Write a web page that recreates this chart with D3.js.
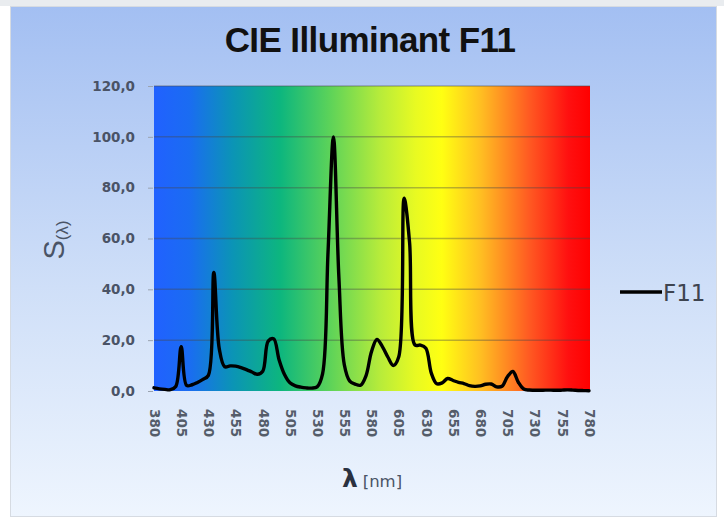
<!DOCTYPE html>
<html>
<head>
<meta charset="utf-8">
<script src="https://cdn.jsdelivr.net/npm/d3@7/dist/d3.min.js"></script>
<style>
  html, body { margin: 0; padding: 0; background: #ffffff; }
  svg { display: block; }
</style>
</head>
<body>
<div id="chart"></div>
<script>
// Wavelengths (nm), 5 nm steps
const wavelengths = [
  380, 385, 390, 395, 400, 405, 410, 415, 420, 425,
  430, 435, 440, 445, 450, 455, 460, 465, 470, 475,
  480, 485, 490, 495, 500, 505, 510, 515, 520, 525,
  530, 535, 540, 545, 550, 555, 560, 565, 570, 575,
  580, 585, 590, 595, 600, 605, 610, 615, 620, 625,
  630, 635, 640, 645, 650, 655, 660, 665, 670, 675,
  680, 685, 690, 695, 700, 705, 710, 715, 720, 725,
  730, 735, 740, 745, 750, 755, 760, 765, 770, 775,
  780
];

// Relative spectral power of F11 (peak = 100)
const f11 = [
  1.25, 0.86, 0.63, 0.51, 1.77, 17.41, 2.18, 2.46, 3.38, 4.57,
  6.16, 46.60, 16.65, 9.54, 9.87, 9.78, 9.23, 8.42, 7.50, 6.58,
  7.77, 19.62, 20.54, 12.32, 6.48, 3.20, 2.02, 1.51, 1.22, 1.14,
  1.62, 6.73, 54.35, 100.0, 44.77, 10.32, 3.89, 2.69, 2.29, 6.08,
  15.49, 20.26, 17.48, 13.37, 10.06, 13.34, 75.88, 58.46, 18.09, 18.07,
  16.83, 7.02, 2.84, 3.21, 4.91, 4.13, 3.40, 2.94, 2.11, 1.83,
  2.00, 2.66, 2.75, 1.65, 1.85, 5.63, 7.66, 3.45, 0.78, 0.37,
  0.32, 0.29, 0.33, 0.33, 0.27, 0.33, 0.44, 0.36, 0.22, 0.16,
  0.12
];

// Axis tick labels
const xTickValues = [380, 405, 430, 455, 480, 505, 530, 555, 580, 605, 630, 655, 680, 705, 730, 755, 780];
const yTickValues = [0, 20, 40, 60, 80, 100, 120];

const W = 724, H = 521;
const plot = { left: 154, right: 589, top: 86, bottom: 391 };
const labelFont = "'DejaVu Sans', Verdana, sans-serif";

const svg = d3.select("#chart").append("svg")
  .attr("width", W).attr("height", H);

const defs = svg.append("defs");

// Chart area background: light blue fading to near white
const bg = defs.append("linearGradient").attr("id", "bgGrad")
  .attr("x1", 0).attr("y1", 0).attr("x2", 0).attr("y2", 1);
bg.append("stop").attr("offset", "0%").attr("stop-color", "#a3bff2");
bg.append("stop").attr("offset", "55%").attr("stop-color", "#cfdff8");
bg.append("stop").attr("offset", "100%").attr("stop-color", "#eef5fe");

// Visible spectrum across the plot area
const spec = defs.append("linearGradient").attr("id", "specGrad")
  .attr("x1", 0).attr("y1", 0).attr("x2", 1).attr("y2", 0);
[
  [0.00, "#2161ff"],
  [0.08, "#1a6cf2"],
  [0.18, "#0b94b6"],
  [0.29, "#0db67e"],
  [0.40, "#5ad25a"],
  [0.52, "#b8ec3a"],
  [0.60, "#e8fa22"],
  [0.66, "#ffff12"],
  [0.75, "#ffbe22"],
  [0.86, "#ff5a22"],
  [0.95, "#ff1010"],
  [1.00, "#ff0000"]
].forEach(([o, c]) => spec.append("stop").attr("offset", o).attr("stop-color", c));

// Page backdrop and chart frame
svg.append("rect").attr("x", 0).attr("y", 0).attr("width", W).attr("height", 6).attr("fill", "#e9ecef");
svg.append("rect")
  .attr("x", 10.5).attr("y", 6.5).attr("width", 706).attr("height", 510)
  .attr("fill", "url(#bgGrad)").attr("stroke", "#d6dbe2").attr("stroke-width", 1);

const x = d3.scaleLinear().domain([380, 780]).range([plot.left, plot.right]);
const y = d3.scaleLinear().domain([0, 120]).range([plot.bottom, plot.top]);

// Plot area
svg.append("rect")
  .attr("x", plot.left).attr("y", plot.top)
  .attr("width", plot.right - plot.left + 1).attr("height", plot.bottom - plot.top)
  .attr("fill", "url(#specGrad)");

// Horizontal gridlines
svg.append("g").selectAll("line")
  .data(yTickValues.filter(v => v > 0))
  .join("line")
  .attr("x1", plot.left).attr("x2", plot.right + 1)
  .attr("y1", d => y(d)).attr("y2", d => y(d))
  .attr("stroke", "rgba(70,70,70,0.38)").attr("stroke-width", 1.5);

// Y axis
const fmt = v => d3.format(".1f")(v).replace(".", ",");
const yAxis = svg.append("g")
  .attr("transform", `translate(${plot.left - 1},0)`)
  .call(d3.axisLeft(y).tickValues(yTickValues).tickSize(5).tickPadding(13).tickFormat(fmt));
yAxis.select(".domain").remove();
yAxis.selectAll(".tick line").attr("stroke", "#9aa3b0");
yAxis.selectAll(".tick text")
  .attr("font-family", labelFont)
  .attr("font-size", 13.5).attr("font-weight", "bold").attr("fill", "#4a5366");

// X axis with vertical labels
const xAxis = svg.append("g")
  .attr("transform", `translate(0,${plot.bottom})`)
  .call(d3.axisBottom(x).tickValues(xTickValues).tickSize(0).tickFormat(d3.format("d")));
xAxis.select(".domain").remove();
xAxis.selectAll(".tick text")
  .attr("font-family", labelFont)
  .attr("font-size", 13.5).attr("font-weight", "bold").attr("fill", "#555d6a")
  .attr("text-anchor", "start")
  .attr("dy", "0.35em").attr("y", 0)
  .attr("transform", "translate(0,18) rotate(90)");

// Spectrum line
const line = d3.line()
  .x((d, i) => x(wavelengths[i]))
  .y(d => y(Math.max(0, d)))
  .curve(d3.curveCatmullRom.alpha(0.5));
svg.append("path")
  .datum(f11)
  .attr("d", line)
  .attr("fill", "none")
  .attr("stroke", "#000000").attr("stroke-width", 3.4)
  .attr("stroke-linejoin", "round").attr("stroke-linecap", "round");

// Title
svg.append("text")
  .attr("x", 370).attr("y", 52)
  .attr("text-anchor", "middle")
  .attr("font-family", "'Liberation Sans', Arial, sans-serif")
  .attr("font-size", 35).attr("font-weight", "bold")
  .attr("letter-spacing", "-0.6")
  .attr("fill", "#111111")
  .text("CIE Illuminant F11");

// Y axis title: S(λ)
const yt = svg.append("text")
  .attr("transform", "translate(64,240) rotate(-90)")
  .attr("text-anchor", "middle")
  .attr("font-family", "'Liberation Sans', Arial, sans-serif")
  .attr("fill", "#4a5466");
yt.append("tspan").attr("font-size", 29).text("S");
yt.append("tspan").attr("font-size", 17).attr("dy", 4).text("(λ)");

// X axis title: λ [nm]
const xt = svg.append("text")
  .attr("x", 372).attr("y", 487)
  .attr("text-anchor", "middle")
  .attr("font-family", labelFont)
  .attr("fill", "#4a5466");
xt.append("tspan").attr("font-size", 25).attr("font-weight", "bold").attr("fill", "#2a3140").text("λ");
xt.append("tspan").attr("font-size", 16.5).attr("dx", 5).text("[nm]");

// Legend
const lg = svg.append("g").attr("transform", "translate(620,292)");
lg.append("line").attr("x1", 0).attr("x2", 42).attr("y1", 0).attr("y2", 0)
  .attr("stroke", "#000000").attr("stroke-width", 3.6);
lg.append("text").attr("x", 43).attr("y", 9)
  .attr("font-family", labelFont)
  .attr("font-size", 23).attr("fill", "#3e4450")
  .text("F11");
</script>
</body>
</html>
